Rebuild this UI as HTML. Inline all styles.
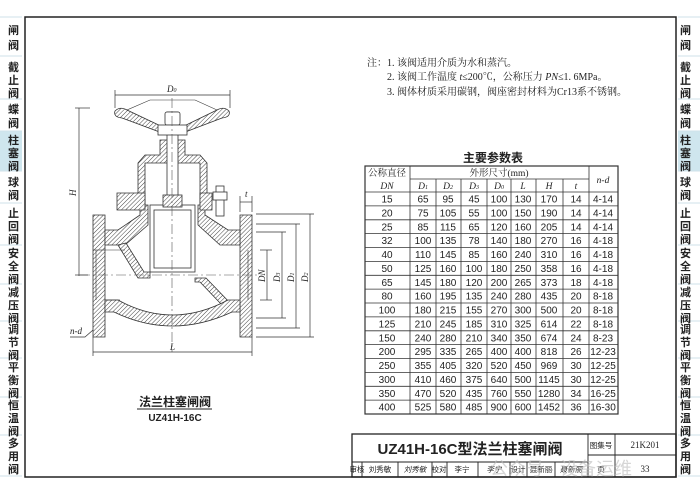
<!DOCTYPE html>
<html><head><meta charset="utf-8"><style>
html,body{margin:0;padding:0;background:#fff}
svg{display:block}
text{font-family:"Liberation Sans","Noto Sans CJK SC",sans-serif;fill:#222}
.s{font-family:"Liberation Serif","Noto Serif CJK SC",serif}
</style></head><body>
<svg width="700" height="493" viewBox="0 0 700 493" xmlns="http://www.w3.org/2000/svg">
<defs>
<pattern id="h" width="3" height="3" patternUnits="userSpaceOnUse" patternTransform="rotate(45)">
<rect width="3" height="3" fill="#fff"/><line x1="0" y1="0" x2="0" y2="3" stroke="#444" stroke-width="1"/>
</pattern>
</defs>
<rect width="700" height="493" fill="#fff"/>
<!-- side strips -->
<g font-size="11" font-weight="bold">
<rect x="0" y="131" width="22" height="40" fill="#cfe6ee"/>
<rect x="678" y="131" width="22" height="40" fill="#cfe6ee"/>
<g stroke="#cfe1ea" stroke-width="1">
<line x1="0" y1="17" x2="22" y2="17"/><line x1="0" y1="56" x2="22" y2="56"/><line x1="0" y1="99" x2="22" y2="99"/><line x1="0" y1="131" x2="22" y2="131"/><line x1="0" y1="171" x2="22" y2="171"/><line x1="0" y1="203" x2="22" y2="203"/><line x1="0" y1="245" x2="22" y2="245"/><line x1="0" y1="284" x2="22" y2="284"/><line x1="0" y1="321" x2="22" y2="321"/><line x1="0" y1="358" x2="22" y2="358"/><line x1="0" y1="397" x2="22" y2="397"/><line x1="0" y1="435" x2="22" y2="435"/><line x1="0" y1="476" x2="22" y2="476"/>
<line x1="678" y1="17" x2="700" y2="17"/><line x1="678" y1="56" x2="700" y2="56"/><line x1="678" y1="99" x2="700" y2="99"/><line x1="678" y1="131" x2="700" y2="131"/><line x1="678" y1="171" x2="700" y2="171"/><line x1="678" y1="203" x2="700" y2="203"/><line x1="678" y1="245" x2="700" y2="245"/><line x1="678" y1="284" x2="700" y2="284"/><line x1="678" y1="321" x2="700" y2="321"/><line x1="678" y1="358" x2="700" y2="358"/><line x1="678" y1="397" x2="700" y2="397"/><line x1="678" y1="435" x2="700" y2="435"/><line x1="678" y1="476" x2="700" y2="476"/>
</g>
<g id="side">
<text x="8" y="34">闸</text><text x="8" y="49">阀</text>
<text x="8" y="71">截</text><text x="8" y="84">止</text><text x="8" y="97">阀</text>
<text x="8" y="113">蝶</text><text x="8" y="127">阀</text>
<text x="8" y="144">柱</text><text x="8" y="157">塞</text><text x="8" y="170">阀</text>
<text x="8" y="186">球</text><text x="8" y="199">阀</text>
<text x="8" y="217">止</text><text x="8" y="230">回</text><text x="8" y="243">阀</text>
<text x="8" y="257">安</text><text x="8" y="270">全</text><text x="8" y="283">阀</text>
<text x="8" y="296">减</text><text x="8" y="309">压</text><text x="8" y="322">阀</text>
<text x="8" y="333">调</text><text x="8" y="346">节</text><text x="8" y="359">阀</text>
<text x="8" y="371">平</text><text x="8" y="384">衡</text><text x="8" y="397">阀</text>
<text x="8" y="409">恒</text><text x="8" y="422">温</text><text x="8" y="435">阀</text>
<text x="8" y="447">多</text><text x="8" y="460">用</text><text x="8" y="473">阀</text>
</g>
<use href="#side" x="672"/>
</g>
<!-- frame -->
<rect x="25" y="17" width="651" height="460" fill="none" stroke="#222" stroke-width="1.5"/>
<!-- notes -->
<g font-size="10" class="s">
<text x="367" y="66" class="s">注：1. 该阀适用介质为水和蒸汽。</text>
<text x="387" y="80" class="s">2. 该阀工作温度 <tspan font-style="italic">t</tspan>≤200℃，公称压力 <tspan font-style="italic">PN</tspan>≤1. 6MPa。</text>
<text x="387" y="95" class="s">3. 阀体材质采用碳钢，阀座密封材料为Cr13系不锈钢。</text>
</g>
<!-- table -->
<text x="493" y="162" font-size="12" font-weight="bold" text-anchor="middle">主要参数表</text>
<g stroke="#333" stroke-width="0.8" fill="none">
<rect x="365" y="166" width="253" height="248" stroke-width="1.2"/>
<line x1="410" y1="166" x2="410" y2="414"/>
<line x1="589" y1="166" x2="589" y2="414"/>
<line x1="410" y1="179" x2="589" y2="179"/>
<line x1="436" y1="179" x2="436" y2="414"/><line x1="461" y1="179" x2="461" y2="414"/><line x1="487" y1="179" x2="487" y2="414"/><line x1="511" y1="179" x2="511" y2="414"/><line x1="536" y1="179" x2="536" y2="414"/><line x1="563" y1="179" x2="563" y2="414"/>
<line x1="365" y1="192" x2="618" y2="192"/>
<line x1="365" y1="205.9" x2="618" y2="205.9"/><line x1="365" y1="219.8" x2="618" y2="219.8"/><line x1="365" y1="233.6" x2="618" y2="233.6"/><line x1="365" y1="247.5" x2="618" y2="247.5"/><line x1="365" y1="261.4" x2="618" y2="261.4"/><line x1="365" y1="275.3" x2="618" y2="275.3"/><line x1="365" y1="289.1" x2="618" y2="289.1"/><line x1="365" y1="303" x2="618" y2="303"/><line x1="365" y1="316.9" x2="618" y2="316.9"/><line x1="365" y1="330.8" x2="618" y2="330.8"/><line x1="365" y1="344.6" x2="618" y2="344.6"/><line x1="365" y1="358.5" x2="618" y2="358.5"/><line x1="365" y1="372.4" x2="618" y2="372.4"/><line x1="365" y1="386.3" x2="618" y2="386.3"/><line x1="365" y1="400.1" x2="618" y2="400.1"/>
</g>
<g font-size="9.5" text-anchor="middle" class="s">
<text x="387" y="176" class="s">公称直径</text>
<text x="499" y="176" class="s">外形尺寸(mm)</text>
<text x="603" y="183" class="s" font-style="italic">n-d</text>
<text x="387" y="189" class="s" font-style="italic">DN</text>
<text x="423" y="189" class="s" font-style="italic">D<tspan font-size="6">1</tspan></text>
<text x="448" y="189" class="s" font-style="italic">D<tspan font-size="6">2</tspan></text>
<text x="474" y="189" class="s" font-style="italic">D<tspan font-size="6">3</tspan></text>
<text x="499" y="189" class="s" font-style="italic">D<tspan font-size="6">0</tspan></text>
<text x="523" y="189" class="s" font-style="italic">L</text>
<text x="549" y="189" class="s" font-style="italic">H</text>
<text x="576" y="189" class="s" font-style="italic">t</text>
</g>
<g font-size="10" text-anchor="middle" class="s" id="tb">
<g transform="translate(0,202.5)"><text x="387">15</text><text x="423">65</text><text x="448">95</text><text x="474">45</text><text x="499">100</text><text x="523">130</text><text x="549">170</text><text x="576">14</text><text x="603">4-14</text></g>
<g transform="translate(0,216.4)"><text x="387">20</text><text x="423">75</text><text x="448">105</text><text x="474">55</text><text x="499">100</text><text x="523">150</text><text x="549">190</text><text x="576">14</text><text x="603">4-14</text></g>
<g transform="translate(0,230.3)"><text x="387">25</text><text x="423">85</text><text x="448">115</text><text x="474">65</text><text x="499">120</text><text x="523">160</text><text x="549">205</text><text x="576">14</text><text x="603">4-14</text></g>
<g transform="translate(0,244.1)"><text x="387">32</text><text x="423">100</text><text x="448">135</text><text x="474">78</text><text x="499">140</text><text x="523">180</text><text x="549">270</text><text x="576">16</text><text x="603">4-18</text></g>
<g transform="translate(0,258)"><text x="387">40</text><text x="423">110</text><text x="448">145</text><text x="474">85</text><text x="499">160</text><text x="523">240</text><text x="549">310</text><text x="576">16</text><text x="603">4-18</text></g>
<g transform="translate(0,271.9)"><text x="387">50</text><text x="423">125</text><text x="448">160</text><text x="474">100</text><text x="499">180</text><text x="523">250</text><text x="549">358</text><text x="576">16</text><text x="603">4-18</text></g>
<g transform="translate(0,285.8)"><text x="387">65</text><text x="423">145</text><text x="448">180</text><text x="474">120</text><text x="499">200</text><text x="523">265</text><text x="549">373</text><text x="576">18</text><text x="603">4-18</text></g>
<g transform="translate(0,299.6)"><text x="387">80</text><text x="423">160</text><text x="448">195</text><text x="474">135</text><text x="499">240</text><text x="523">280</text><text x="549">435</text><text x="576">20</text><text x="603">8-18</text></g>
<g transform="translate(0,313.5)"><text x="387">100</text><text x="423">180</text><text x="448">215</text><text x="474">155</text><text x="499">270</text><text x="523">300</text><text x="549">500</text><text x="576">20</text><text x="603">8-18</text></g>
<g transform="translate(0,327.4)"><text x="387">125</text><text x="423">210</text><text x="448">245</text><text x="474">185</text><text x="499">310</text><text x="523">325</text><text x="549">614</text><text x="576">22</text><text x="603">8-18</text></g>
<g transform="translate(0,341.3)"><text x="387">150</text><text x="423">240</text><text x="448">280</text><text x="474">210</text><text x="499">340</text><text x="523">350</text><text x="549">674</text><text x="576">24</text><text x="603">8-23</text></g>
<g transform="translate(0,355.1)"><text x="387">200</text><text x="423">295</text><text x="448">335</text><text x="474">265</text><text x="499">400</text><text x="523">400</text><text x="549">818</text><text x="576">26</text><text x="603">12-23</text></g>
<g transform="translate(0,369)"><text x="387">250</text><text x="423">355</text><text x="448">405</text><text x="474">320</text><text x="499">520</text><text x="523">450</text><text x="549">969</text><text x="576">30</text><text x="603">12-25</text></g>
<g transform="translate(0,382.9)"><text x="387">300</text><text x="423">410</text><text x="448">460</text><text x="474">375</text><text x="499">640</text><text x="523">500</text><text x="549">1145</text><text x="576">30</text><text x="603">12-25</text></g>
<g transform="translate(0,396.8)"><text x="387">350</text><text x="423">470</text><text x="448">520</text><text x="474">435</text><text x="499">760</text><text x="523">550</text><text x="549">1280</text><text x="576">34</text><text x="603">16-25</text></g>
<g transform="translate(0,410.6)"><text x="387">400</text><text x="423">525</text><text x="448">580</text><text x="474">485</text><text x="499">900</text><text x="523">600</text><text x="549">1452</text><text x="576">36</text><text x="603">16-30</text></g>
</g>
<!-- valve drawing -->
<g stroke="#333" stroke-width="0.8" fill="url(#h)">
<!-- handwheel arms -->
<path d="M115 111 Q120 106 127 110 L165 128 L165 134 L122 118 Q113 117 115 111Z"/>
<path d="M229 111 Q224 106 217 110 L180 128 L180 134 L222 118 Q231 117 229 111Z"/>
<!-- flanges -->
<path d="M93 215 H105 V337 H93Z"/>
<path d="M240 215 H252 V337 H240Z"/>
<!-- top walls -->
<path d="M105 230 H118 L140 215 V205 H148 V225 L125 245 H105Z"/>
<path d="M240 230 H228 L205 215 V205 H198 V225 L220 245 H240Z"/>
<!-- septum -->
<path d="M118 245 L138 278 H150 V272 L144 272 L126 243Z"/>
<path d="M195 278 H206 L232 305 H222 L200 282 H195Z"/>
<!-- bottom bowl -->
<path d="M105 300 H118 Q172 330 228 300 H240 V312 H232 Q172 340 114 312 H105Z"/>
<!-- bonnet -->
<path d="M138 205 V163 L145 155 H160 V140 H185 V155 H200 L207 163 V205 H200 V163 H145 V205Z"/>
<path d="M117 193 H145 V210 H117Z"/>
<path d="M200 193 H212 V210 H200Z"/>
</g>
<g stroke="#333" stroke-width="0.8" fill="#fff">
<rect x="150" y="205" width="45" height="67"/>
<rect x="154" y="210" width="37" height="58"/>
<rect x="167" y="112" width="11" height="85"/>
<rect x="165" y="112" width="15" height="13" rx="2"/>
<rect x="158" y="125" width="29" height="10"/>
<rect x="163" y="195" width="19" height="12" fill="url(#h)"/>
<rect x="216" y="186" width="8" height="30"/>
<rect x="213" y="192" width="14" height="8"/>
</g>
<g stroke="#333" stroke-width="0.6" fill="none">
<path d="M127 110 L150 100 H195 L217 110"/>
<line x1="93" y1="250" x2="105" y2="250"/><line x1="96" y1="250" x2="96" y2="300"/>
<line x1="248" y1="250" x2="248" y2="300"/>
<line x1="105" y1="250" x2="125" y2="250"/>
<line x1="105" y1="300" x2="120" y2="300"/>
</g>
<!-- center lines -->
<g stroke="#555" stroke-width="0.6" stroke-dasharray="10 3 2 3" fill="none">
<line x1="172" y1="98" x2="172" y2="352"/>
<line x1="80" y1="275" x2="258" y2="275"/>
</g>
<!-- dimensions -->
<g stroke="#333" stroke-width="0.7" fill="none">
<line x1="115" y1="95" x2="230" y2="95"/><line x1="115" y1="90" x2="115" y2="108"/><line x1="230" y1="90" x2="230" y2="108"/>
<line x1="79" y1="108" x2="79" y2="276"/><line x1="75" y1="108" x2="90" y2="108"/><line x1="75" y1="275" x2="88" y2="275"/>
<line x1="93" y1="337" x2="93" y2="356"/><line x1="252" y1="337" x2="252" y2="356"/><line x1="93" y1="352" x2="252" y2="352"/>
<line x1="240" y1="202" x2="252" y2="202"/><line x1="240" y1="196" x2="240" y2="212"/><line x1="252" y1="196" x2="252" y2="212"/>
<line x1="260" y1="250" x2="272" y2="250"/><line x1="260" y1="300" x2="272" y2="300"/><line x1="267" y1="250" x2="267" y2="300"/>
<line x1="256" y1="232" x2="286" y2="232"/><line x1="256" y1="318" x2="286" y2="318"/><line x1="282" y1="232" x2="282" y2="318"/>
<line x1="256" y1="224" x2="300" y2="224"/><line x1="256" y1="328" x2="300" y2="328"/><line x1="296" y1="224" x2="296" y2="328"/>
<line x1="256" y1="214" x2="314" y2="214"/><line x1="256" y1="337" x2="314" y2="337"/><line x1="310" y1="214" x2="310" y2="337"/>
<path d="M70 337 H85 L93 330"/>
</g>
<g font-size="9" font-style="italic" class="s">
<text x="167" y="92" class="s">D<tspan font-size="6">0</tspan></text>
<text x="76" y="196" class="s" transform="rotate(-90 76 196)">H</text>
<text x="170" y="350" class="s">L</text>
<text x="245" y="197" class="s">t</text>
<text x="70" y="334" class="s">n-d</text>
<text x="265" y="282" class="s" transform="rotate(-90 265 282)">DN</text>
<text x="280" y="282" class="s" transform="rotate(-90 280 282)">D<tspan font-size="6">3</tspan></text>
<text x="294" y="282" class="s" transform="rotate(-90 294 282)">D<tspan font-size="6">1</tspan></text>
<text x="308" y="282" class="s" transform="rotate(-90 308 282)">D<tspan font-size="6">2</tspan></text>
</g>
<text x="175" y="406" font-size="12" font-weight="bold" text-anchor="middle">法兰柱塞闸阀</text>
<line x1="137" y1="409" x2="212" y2="409" stroke="#222" stroke-width="1"/>
<text x="175" y="421" font-size="10" font-weight="bold" text-anchor="middle">UZ41H-16C</text>
<!-- title block -->
<g stroke="#222" stroke-width="0.9" fill="none">
<rect x="352" y="434" width="324" height="43" stroke-width="1.3"/>
<line x1="352" y1="462" x2="588" y2="462"/>
<line x1="588" y1="434" x2="588" y2="477"/><line x1="615" y1="434" x2="615" y2="477"/>
<line x1="588" y1="455" x2="676" y2="455"/>
<line x1="362" y1="462" x2="362" y2="477"/><line x1="398" y1="462" x2="398" y2="477"/><line x1="432" y1="462" x2="432" y2="477"/><line x1="447" y1="462" x2="447" y2="477"/><line x1="478" y1="462" x2="478" y2="477"/><line x1="510" y1="462" x2="510" y2="477"/><line x1="527" y1="462" x2="527" y2="477"/><line x1="555" y1="462" x2="555" y2="477"/>
</g>
<text x="470" y="454" font-size="15" font-weight="bold" text-anchor="middle">UZ41H-16C型法兰柱塞闸阀</text>
<g font-size="7.5" text-anchor="middle">
<text x="601" y="448">图集号</text><text x="645" y="448" font-size="9" class="s">21K201</text>
<text x="601" y="472">页</text><text x="645" y="472" font-size="9" class="s">33</text>
<text x="357" y="472">审核</text><text x="380" y="472">刘秀敏</text>
<text x="415" y="472" font-style="italic">刘秀敏</text>
<text x="439" y="472">校对</text><text x="462" y="472">李宁</text>
<text x="494" y="472" font-style="italic">李宁</text>
<text x="518" y="472">设计</text><text x="541" y="472">聂新丽</text>
<text x="571" y="472" font-style="italic">聂新丽</text>
</g>
<text x="490" y="475" font-size="18" fill="#bbb" opacity="0.6" style="fill:#bbb">公众号 · 设备运维</text>
</svg>
</body></html>
